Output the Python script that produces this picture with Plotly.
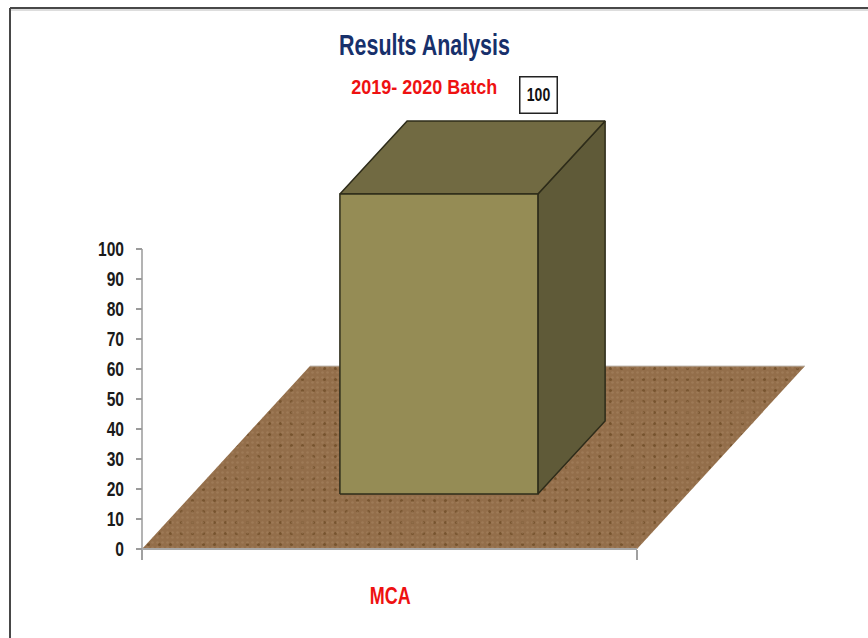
import plotly.graph_objects as go

# Data
categories = ["MCA"]
values = [100]
y_ticks = [0, 10, 20, 30, 40, 50, 60, 70, 80, 90, 100]
title_text = "Results Analysis"
subtitle_text = "2019- 2020 Batch"

# 3-D projection of the chart (category fraction, depth fraction, value) onto the axes
DEPTH_X = 168 / 495
DEPTH_Y = 183 / 3
BAR_C = (0.298, 0.698)
BAR_D = (0.3, 0.7)


def proj(c, d, v):
    return c + d * DEPTH_X, v + d * DEPTH_Y


def poly(points):
    xy = [proj(*p) for p in points]
    xy.append(xy[0])
    return [p[0] for p in xy], [p[1] for p in xy]


W, H = 868, 638
X0, X1 = 142, 637
Y0, Y100 = 549, 249
x_range = [(0 - X0) / (X1 - X0), (W - X0) / (X1 - X0)]
scale = (Y0 - Y100) / 100
y_range = [(Y0 - H) / scale, Y0 / scale]
FONT = "Liberation Sans"

fig = go.Figure()

# Floor (layered patterns give the mottled texture)
fx, fy = poly([(0, 0, 0), (1, 0, 0), (1, 1, 0), (0, 1, 0)])
fig.add_trace(go.Scatter(
    x=fx, y=fy, mode="lines", fill="toself", fillcolor="#8f6a46",
    fillpattern=dict(shape=".", fgcolor="#77542f", bgcolor="#936e4a",
                     size=11, solidity=0.06, fillmode="replace"),
    line=dict(width=0), hoverinfo="skip"))
fig.add_trace(go.Scatter(
    x=fx, y=fy, mode="lines", fill="toself", fillcolor="rgba(0,0,0,0)",
    fillpattern=dict(shape=".", fgcolor="rgba(165,130,96,0.55)", bgcolor="rgba(0,0,0,0)",
                     size=5, solidity=0.2, fillmode="replace"),
    line=dict(width=0), hoverinfo="skip"))

# Back edge of the floor
bx, by = zip(proj(0, 1, 0), proj(1, 1, 0))
fig.add_trace(go.Scatter(x=bx, y=by, mode="lines",
                         line=dict(color="#c4bfb8", width=1), hoverinfo="skip"))

# Value axis line
fig.add_trace(go.Scatter(
    x=[0, 0], y=[y_ticks[0], y_ticks[-1]], mode="lines",
    line=dict(color="#9a9a9a", width=1.5), hoverinfo="skip"))

# Baseline
fig.add_trace(go.Scatter(
    x=[0, 1], y=[0, 0], mode="lines",
    line=dict(color="#a8a8a8", width=2), hoverinfo="skip"))

# Bar
v = values[0]
c0, c1 = BAR_C
d0, d1 = BAR_D
edge = dict(color="#2e2c1a", width=1.5)
faces = [
    ([(c1, d0, 0), (c1, d1, 0), (c1, d1, v), (c1, d0, v)], "#5f5a38"),
    ([(c0, d0, v), (c1, d0, v), (c1, d1, v), (c0, d1, v)], "#716a42"),
    ([(c0, d0, 0), (c1, d0, 0), (c1, d0, v), (c0, d0, v)], "#958c55"),
]
for pts, col in faces:
    x, y = poly(pts)
    fig.add_trace(go.Scatter(x=x, y=y, mode="lines", fill="toself", fillcolor=col,
                             line=edge, hoverinfo="skip"))

# Data label
label_x, label_y = proj(0.7, d0, v)
fig.add_annotation(
    x=label_x, y=label_y + 33, xref="x", yref="y", text=str(v), showarrow=False,
    font=dict(family=FONT, size=18, color="#111111", weight="bold"),
    width=36, height=35, align="center", valign="middle",
    bordercolor="#222222", borderwidth=1.5, borderpad=0, bgcolor="white")

# Titles
fig.add_annotation(x=424.5 / W, y=1 - 44 / H, xref="paper", yref="paper", text=title_text, showarrow=False,
                   xanchor="center", yanchor="middle",
                   font=dict(family=FONT, size=30, color="#17306b", weight="bold"))
fig.add_annotation(x=423.5 / W, y=1 - 86 / H, xref="paper", yref="paper", text=subtitle_text, showarrow=False,
                   xanchor="center", yanchor="middle",
                   font=dict(family=FONT, size=21, color="#ee1111", weight="bold"))

# Category label
fig.add_annotation(x=0.5, y=(Y0 - 596) / scale, xref="x", yref="y", text=categories[0], showarrow=False,
                   font=dict(family=FONT, size=23, color="#ee1111", weight="bold"))

# Frame
frame = dict(color="#484848", width=2)
fig.add_shape(type="line", xref="paper", yref="paper", x0=10 / W, x1=1, y0=1 - 8 / H, y1=1 - 8 / H, line=frame)
fig.add_shape(type="line", xref="paper", yref="paper", x0=10 / W, x1=10 / W, y0=0, y1=1 - 8 / H, line=frame)
fig.add_shape(type="line", xref="paper", yref="paper", x0=11 / W, x1=1, y0=1 - 10 / H, y1=1 - 10 / H,
              line=dict(color="#dddddd", width=2))

fig.update_layout(
    width=W, height=H, showlegend=False,
    margin=dict(l=0, r=0, t=0, b=0),
    paper_bgcolor="white", plot_bgcolor="white",
    xaxis=dict(
        range=x_range, tickmode="array", tickvals=[0, 1], ticktext=["", ""],
        ticks="outside", ticklen=10, tickcolor="#a0a0a0", tickwidth=1.5,
        showgrid=False, zeroline=False, showline=False,
        anchor="free", position=1 - Y0 / H,
    ),
    yaxis=dict(
        range=y_range, tickmode="array", tickvals=y_ticks,
        ticks="outside", ticklen=6, tickcolor="#9a9a9a", tickwidth=1.5,
        ticklabelstandoff=8,
        tickfont=dict(family=FONT, size=20, color="#1a1a1a", weight="bold"),
        showgrid=False, zeroline=False, showline=False,
        anchor="free", position=X0 / W,
    ),
)

# The reference uses a condensed face: narrow the real text to the widths it has there.
post = """
document.documentElement.style.margin = '0';
document.body.style.margin = '0';
document.body.style.overflow = 'hidden';
var widths = {'Results Analysis': 0.715, '2019- 2020 Batch': 0.856};
document.querySelectorAll('.annotation-text, .ytick text').forEach(function (t) {
  var n = t.getComputedTextLength();
  var f = widths[t.textContent] || 0.78;
  t.setAttribute('textLength', n * f);
  t.setAttribute('lengthAdjust', 'spacingAndGlyphs');
});
"""

fig.write_html("out.html", post_script=post, config={"displayModeBar": False})
